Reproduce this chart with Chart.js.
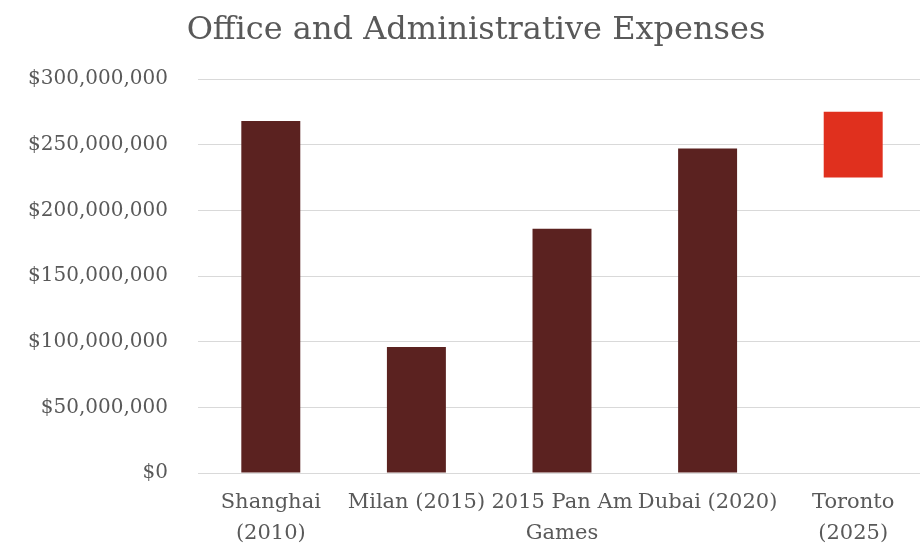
<!DOCTYPE html>
<html>
<head>
<meta charset="utf-8">
<title>Office and Administrative Expenses</title>
<script src="https://cdn.jsdelivr.net/npm/chart.js@4/dist/chart.umd.min.js"></script>
<style>
    html, body { margin: 0; padding: 0; background: #fff; overflow: hidden; }
    #wrap { width: 926px; height: 544px; }
</style>
</head>
<body>
<div id="wrap"><canvas id="expensesChart"></canvas></div>
<script>
// categories (multi-line labels as shown on the axis)
const categories = [
    ['Shanghai', '(2010)'],
    'Milan (2015)',
    ['2015 Pan Am', 'Games'],
    'Dubai (2020)',
    ['Toronto', '(2025)']
];

// past expos / games
const pastExpenses = [268000000, 96000000, 186000000, 247000000];

// Toronto is shown as an estimated range
const torontoLow = 225000000;
const torontoHigh = 275000000;

const yTicks = { min: 0, max: 300000000, step: 50000000 };

const barColors = ['#5b2220', '#5b2220', '#5b2220', '#5b2220', '#e0301e'];

const textColor = '#595959';
const serif = "'DejaVu Serif', 'Liberation Serif', serif";

document.addEventListener("DOMContentLoaded", function () {

    const values = pastExpenses.concat([[torontoLow, torontoHigh]]);

    new Chart(
        document.getElementById('expensesChart'),
        {
            type: 'bar',
            data: {
                labels: categories,
                datasets: [{
                    label: 'Office and Administrative Expenses',
                    data: values,
                    backgroundColor: barColors,
                    borderWidth: 0,
                    categoryPercentage: 1,
                    barPercentage: 0.405
                }]
            },
            options: {
                responsive: true,
                maintainAspectRatio: false,
                animation: false,
                layout: { padding: { left: 26, right: 0, top: 0, bottom: 0 } },
                plugins: {
                    legend: { display: false },
                    tooltip: { enabled: false },
                    title: {
                        display: true,
                        text: 'Office and Administrative Expenses',
                        color: textColor,
                        font: { family: serif, size: 32, weight: 'normal', lineHeight: 1.2 },
                        padding: { top: 11, bottom: 29.6 }
                    }
                },
                scales: {
                    x: {
                        grid: { display: false },
                        border: { display: false },
                        ticks: {
                            color: textColor,
                            autoSkip: false,
                            maxRotation: 0,
                            minRotation: 0,
                            padding: 6,
                            font: { family: serif, size: 21, lineHeight: 1.48 }
                        },
                        afterFit: function (scale) { scale.height = 71; }
                    },
                    y: {
                        min: yTicks.min,
                        max: yTicks.max,
                        border: { display: false },
                        grid: { color: '#d9d9d9', lineWidth: 1, drawTicks: false },
                        ticks: {
                            stepSize: yTicks.step,
                            color: textColor,
                            padding: 30,
                            font: { family: serif, size: 20 },
                            callback: function (v) { return '$' + Number(v).toLocaleString('en-US'); }
                        },
                        afterFit: function (scale) { scale.width = 172; }
                    }
                }
            }
        }
    );

});
</script>
</body>
</html>
